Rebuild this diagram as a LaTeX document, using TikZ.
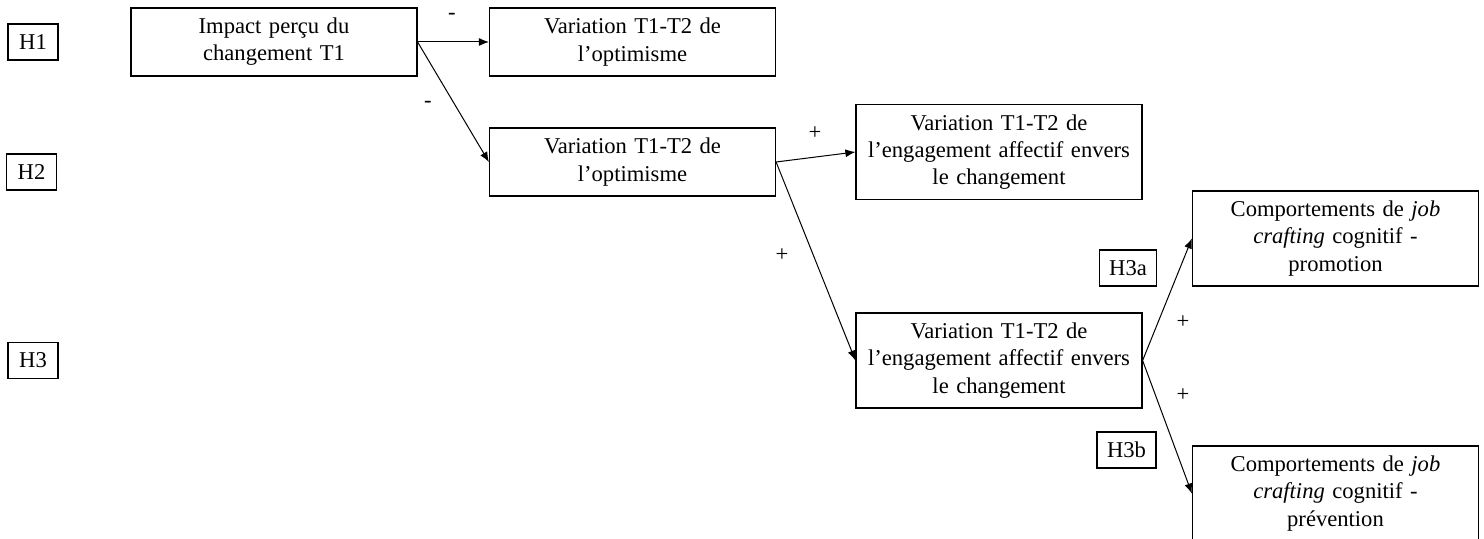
\documentclass[tikz,border=0pt]{standalone}
\usepackage{fontspec}
\setmainfont{Liberation Serif}
\usepackage{tikz}
\usetikzlibrary{arrows.meta}
\tikzstyle{block} = [rectangle, draw, line width=0.6pt, text width=135pt, inner xsep=4pt, text centered, minimum height=34pt, font=\fontsize{11.3}{13.6}\selectfont]
\tikzstyle{bigblock} = [block, minimum height=47.5pt]
\tikzstyle{hyp} = [rectangle, draw, line width=0.6pt, minimum width=25pt, minimum height=18pt, inner xsep=5pt, font=\fontsize{11.3}{13}\selectfont]
\tikzstyle{sign} = [inner sep=0pt, font=\fontsize{11.3}{13}\selectfont]
\tikzstyle{line} = [draw, line width=0.5pt, -{Latex[length=5pt,width=4pt]}]

\begin{document}
\begin{tikzpicture}[x=0.5pt, y=-0.5pt]
\useasboundingbox (0,0) rectangle (1484,539);
% Hypotheses
\node [hyp] (h1) at (33,42) {H1};
\node [hyp] (h2) at (31.5,172) {H2};
\node [hyp] (h3) at (33,360.5) {H3};
\node [hyp] (h3a) at (1128,268) {H3a};
\node [hyp] (h3b) at (1126.5,450) {H3b};
% Variables
\node [block] (impact) at (274,42) {Impact perçu du\\ changement T1};
\node [block] (optA) at (632.5,42) {Variation T1-T2 de\\ l’optimisme};
\node [block] (optB) at (632.5,162) {Variation T1-T2 de\\ l’optimisme};
\node [bigblock] (engA) at (999,152) {Variation T1-T2 de\\ l’engagement affectif envers\\ le changement};
\node [bigblock] (engB) at (999,360.5) {Variation T1-T2 de\\ l’engagement affectif envers\\ le changement};
\node [bigblock] (promo) at (1335.5,238.5) {Comportements de \textit{job}\\ \textit{crafting} cognitif -\\ promotion};
\node [bigblock] (prev) at (1335.5,493.5) {Comportements de \textit{job}\\ \textit{crafting} cognitif -\\ prévention};
% Signs
\node [sign] (sA) at (452,16) {-};
\node [sign] (sB) at (428,104) {-};
\node [sign] (sC) at (815,133) {+};
\node [sign] (sD) at (782,255) {+};
\node [sign] (sE) at (1183,322) {+};
\node [sign] (sF) at (1183,395) {+};
% Draw the edges
\path [line] (impact.east) -- (optA.west);
\path [line] (impact.east) -- (optB.west);
\path [line] (optB.east) -- (engA.west);
\path [line] (optB.east) -- (engB.west);
\path [line] (engB.east) -- (promo.west);
\path [line] (engB.east) -- (prev.west);
\end{tikzpicture}
\end{document}
